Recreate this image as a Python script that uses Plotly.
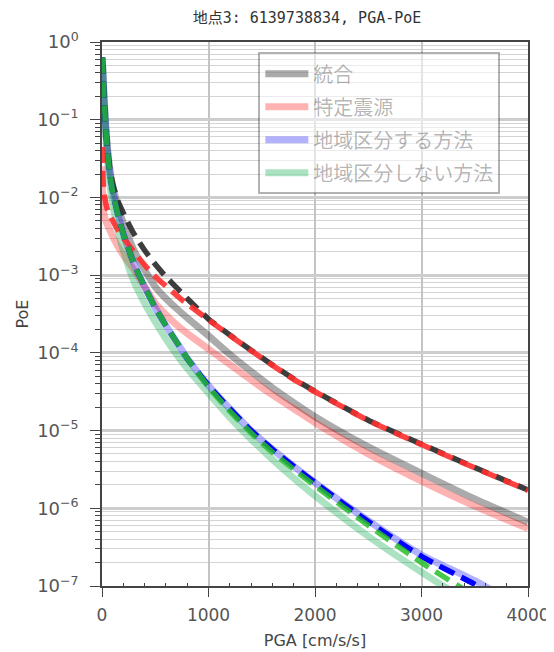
import plotly.graph_objects as go

# PGA [cm/s/s]
pga = [1, 5, 10, 20, 35, 50, 70, 100, 150, 200, 300, 400, 500, 600, 700, 800,
       1000, 1200, 1400, 1600, 1800, 2000, 2500, 3000, 3500, 4000]

# solid (light) curves
poe_total = [0.631, 0.501, 0.355, 0.178, 0.0794, 0.0447, 0.0251, 0.0141, 7.59e-3, 4.68e-3,
             2.09e-3, 1.17e-3, 7.08e-4, 5.01e-4, 3.72e-4, 2.82e-4, 1.66e-4, 9.55e-5,
             5.75e-5, 3.55e-5, 2.29e-5, 1.51e-5, 6.17e-6, 2.82e-6, 1.32e-6, 6.61e-7]
poe_specific = [0.0251, 0.0112, 7.59e-3, 6.03e-3, 5.01e-3, 4.47e-3, 3.89e-3, 3.16e-3, 2.34e-3,
                1.82e-3, 1.17e-3, 7.08e-4, 4.37e-4, 3.09e-4, 2.29e-4, 1.78e-4, 1.12e-4,
                7.08e-5, 4.47e-5, 2.88e-5, 1.91e-5, 1.26e-5, 5.01e-6, 2.24e-6, 1.07e-6, 5.50e-7]
poe_region = [0.631, 0.501, 0.355, 0.178, 0.0794, 0.0417, 0.0224, 0.0120, 6.03e-3, 3.39e-3,
              1.41e-3, 7.08e-4, 3.80e-4, 2.24e-4, 1.38e-4, 8.51e-5, 3.80e-5, 1.91e-5,
              1.0e-5, 5.75e-6, 3.47e-6, 2.14e-6, 6.92e-7, 2.51e-7, 1.17e-7, 4.68e-8]
poe_noregion = [0.631, 0.479, 0.316, 0.158, 0.0661, 0.0331, 0.0166, 8.32e-3, 3.80e-3, 2.09e-3,
                8.32e-4, 4.37e-4, 2.51e-4, 1.51e-4, 9.55e-5, 6.31e-5, 3.02e-5, 1.48e-5,
                7.76e-6, 4.27e-6, 2.45e-6, 1.45e-6, 4.37e-7, 1.51e-7, 5.62e-8, 2.24e-8]

# dashed curves
poe_total_d = [0.631, 0.501, 0.355, 0.178, 0.0794, 0.0447, 0.0251, 0.0151, 8.91e-3, 6.31e-3,
               3.39e-3, 2.09e-3, 1.38e-3, 9.55e-4, 6.92e-4, 5.01e-4, 2.72e-4, 1.70e-4,
               1.08e-4, 7.0e-5, 4.62e-5, 3.20e-5, 1.36e-5, 6.68e-6, 3.35e-6, 1.72e-6]
poe_specific_d = [0.0447, 0.0251, 0.0166, 0.0112, 8.51e-3, 7.08e-3, 6.03e-3, 5.01e-3, 3.80e-3,
                  3.02e-3, 2.0e-3, 1.35e-3, 9.55e-4, 7.24e-4, 5.50e-4, 4.27e-4, 2.66e-4,
                  1.68e-4, 1.07e-4, 6.92e-5, 4.57e-5, 3.16e-5, 1.35e-5, 6.61e-6, 3.31e-6, 1.70e-6]
poe_region_d = [0.631, 0.501, 0.355, 0.178, 0.0794, 0.0417, 0.0224, 0.0120, 6.03e-3, 3.39e-3,
                1.41e-3, 7.08e-4, 3.80e-4, 2.24e-4, 1.38e-4, 8.51e-5, 3.80e-5, 1.91e-5,
                1.0e-5, 5.75e-6, 3.47e-6, 2.14e-6, 6.76e-7, 2.40e-7, 1.05e-7, 4.17e-8]
poe_noregion_d = [0.631, 0.501, 0.355, 0.178, 0.0794, 0.0417, 0.0224, 0.0120, 6.03e-3, 3.39e-3,
                  1.41e-3, 7.08e-4, 3.80e-4, 2.24e-4, 1.38e-4, 8.51e-5, 3.63e-5, 1.78e-5,
                  9.33e-6, 5.25e-6, 3.16e-6, 1.95e-6, 6.03e-7, 2.0e-7, 7.41e-8, 2.82e-8]

names = ["統合", "特定震源", "地域区分する方法", "地域区分しない方法"]

y_tickvals = [1e-7, 1e-6, 1e-5, 1e-4, 1e-3, 1e-2, 1e-1, 1]
y_ticktext = ["10<sup>−7</sup>", "10<sup>−6</sup>", "10<sup>−5</sup>", "10<sup>−4</sup>",
              "10<sup>−3</sup>", "10<sup>−2</sup>", "10<sup>−1</sup>", "10<sup>0</sup>"]
x_tickvals = [0, 1000, 2000, 3000, 4000]

W, H = 546, 644  # page body adds an 8px offset inside the 554x652 window

fig = go.Figure()

solid = [(poe_total, "rgba(0,0,0,0.33)"),
         (poe_specific, "rgba(255,0,0,0.3)"),
         (poe_region, "rgba(0,0,255,0.3)"),
         (poe_noregion, "rgba(0,170,70,0.33)")]
for i, (vals, col) in enumerate(solid):
    fig.add_trace(go.Scatter(x=pga, y=vals, mode="lines", name=names[i],
                             legendgroup=f"g{i}",
                             line=dict(color=col, width=7, shape="spline", smoothing=0.6),
                             hoverinfo="skip"))

dashed = [(poe_total_d, "rgba(40,40,40,0.9)"),
          (poe_specific_d, "rgba(255,45,45,0.9)"),
          (poe_region_d, "rgba(0,0,255,1)"),
          (poe_noregion_d, "rgba(40,190,40,0.85)")]
for i, (vals, col) in enumerate(dashed):
    fig.add_trace(go.Scatter(x=pga, y=vals, mode="lines", showlegend=False,
                             line=dict(color=col, width=5.5, dash="16px,8px",
                                       shape="spline", smoothing=0.6),
                             hoverinfo="skip"))

minor_y = [k * 10.0 ** e for e in range(-7, 0) for k in range(2, 10)]

fig.update_layout(
    width=W, height=H,
    margin=dict(l=94, r=26, t=34, b=66),
    paper_bgcolor="white", plot_bgcolor="white",
    font=dict(family="DejaVu Sans, Noto Sans CJK JP", color="#444"),
    title=dict(text="地点3: 6139738834, PGA-PoE",
               font=dict(family="DejaVu Sans Mono, Noto Sans CJK JP", size=15, color="#333"),
               x=299 / W, xanchor="center", xref="container", y=1 - 10 / H,
               yanchor="middle", yref="container"),
    legend=dict(x=0.367, xanchor="left", y=0.981, yanchor="top",
                bgcolor="rgba(255,255,255,0.55)", bordercolor="rgba(0,0,0,0.3)",
                borderwidth=2, tracegroupgap=4, itemwidth=43,
                font=dict(family="Noto Sans CJK JP", size=20, color="rgba(0,0,0,0.3)")),
    showlegend=True,
)

fig.update_xaxes(
    range=[0, 4000], tickmode="array", tickvals=x_tickvals, automargin=False,
    showgrid=True, gridcolor="#c4c4c4", gridwidth=1.5,
    showline=True, linecolor="#444", linewidth=1.5, mirror=True,
    ticks="outside", ticklen=9, tickcolor="#444", ticklabelstandoff=4,
    tickfont=dict(size=17, color="#555"),
    minor=dict(tickmode="array", tickvals=[200 * k for k in range(1, 20) if k % 5],
               ticks="inside", ticklen=3, tickcolor="#444", showgrid=False),
    title=dict(text="PGA [cm/s/s]", font=dict(size=16, color="#444"), standoff=11),
    zeroline=False,
)
fig.update_yaxes(
    type="log", range=[-7, 0], tickmode="array", tickvals=y_tickvals, ticktext=y_ticktext,
    automargin=False,
    showgrid=True, gridcolor="#cdcdcd", gridwidth=3,
    showline=True, linecolor="#444", linewidth=1.5, mirror=True,
    ticks="outside", ticklen=10, tickcolor="#444", ticklabelstandoff=8,
    tickfont=dict(size=18, color="#555"),
    minor=dict(tickmode="array", tickvals=minor_y, ticks="outside", ticklen=5,
               tickcolor="#444", showgrid=True, gridcolor="#d4d4d4", gridwidth=1),
    title=dict(text="PoE", font=dict(size=16, color="#444"), standoff=5),
    zeroline=False,
)

fig.write_html("out.html")
